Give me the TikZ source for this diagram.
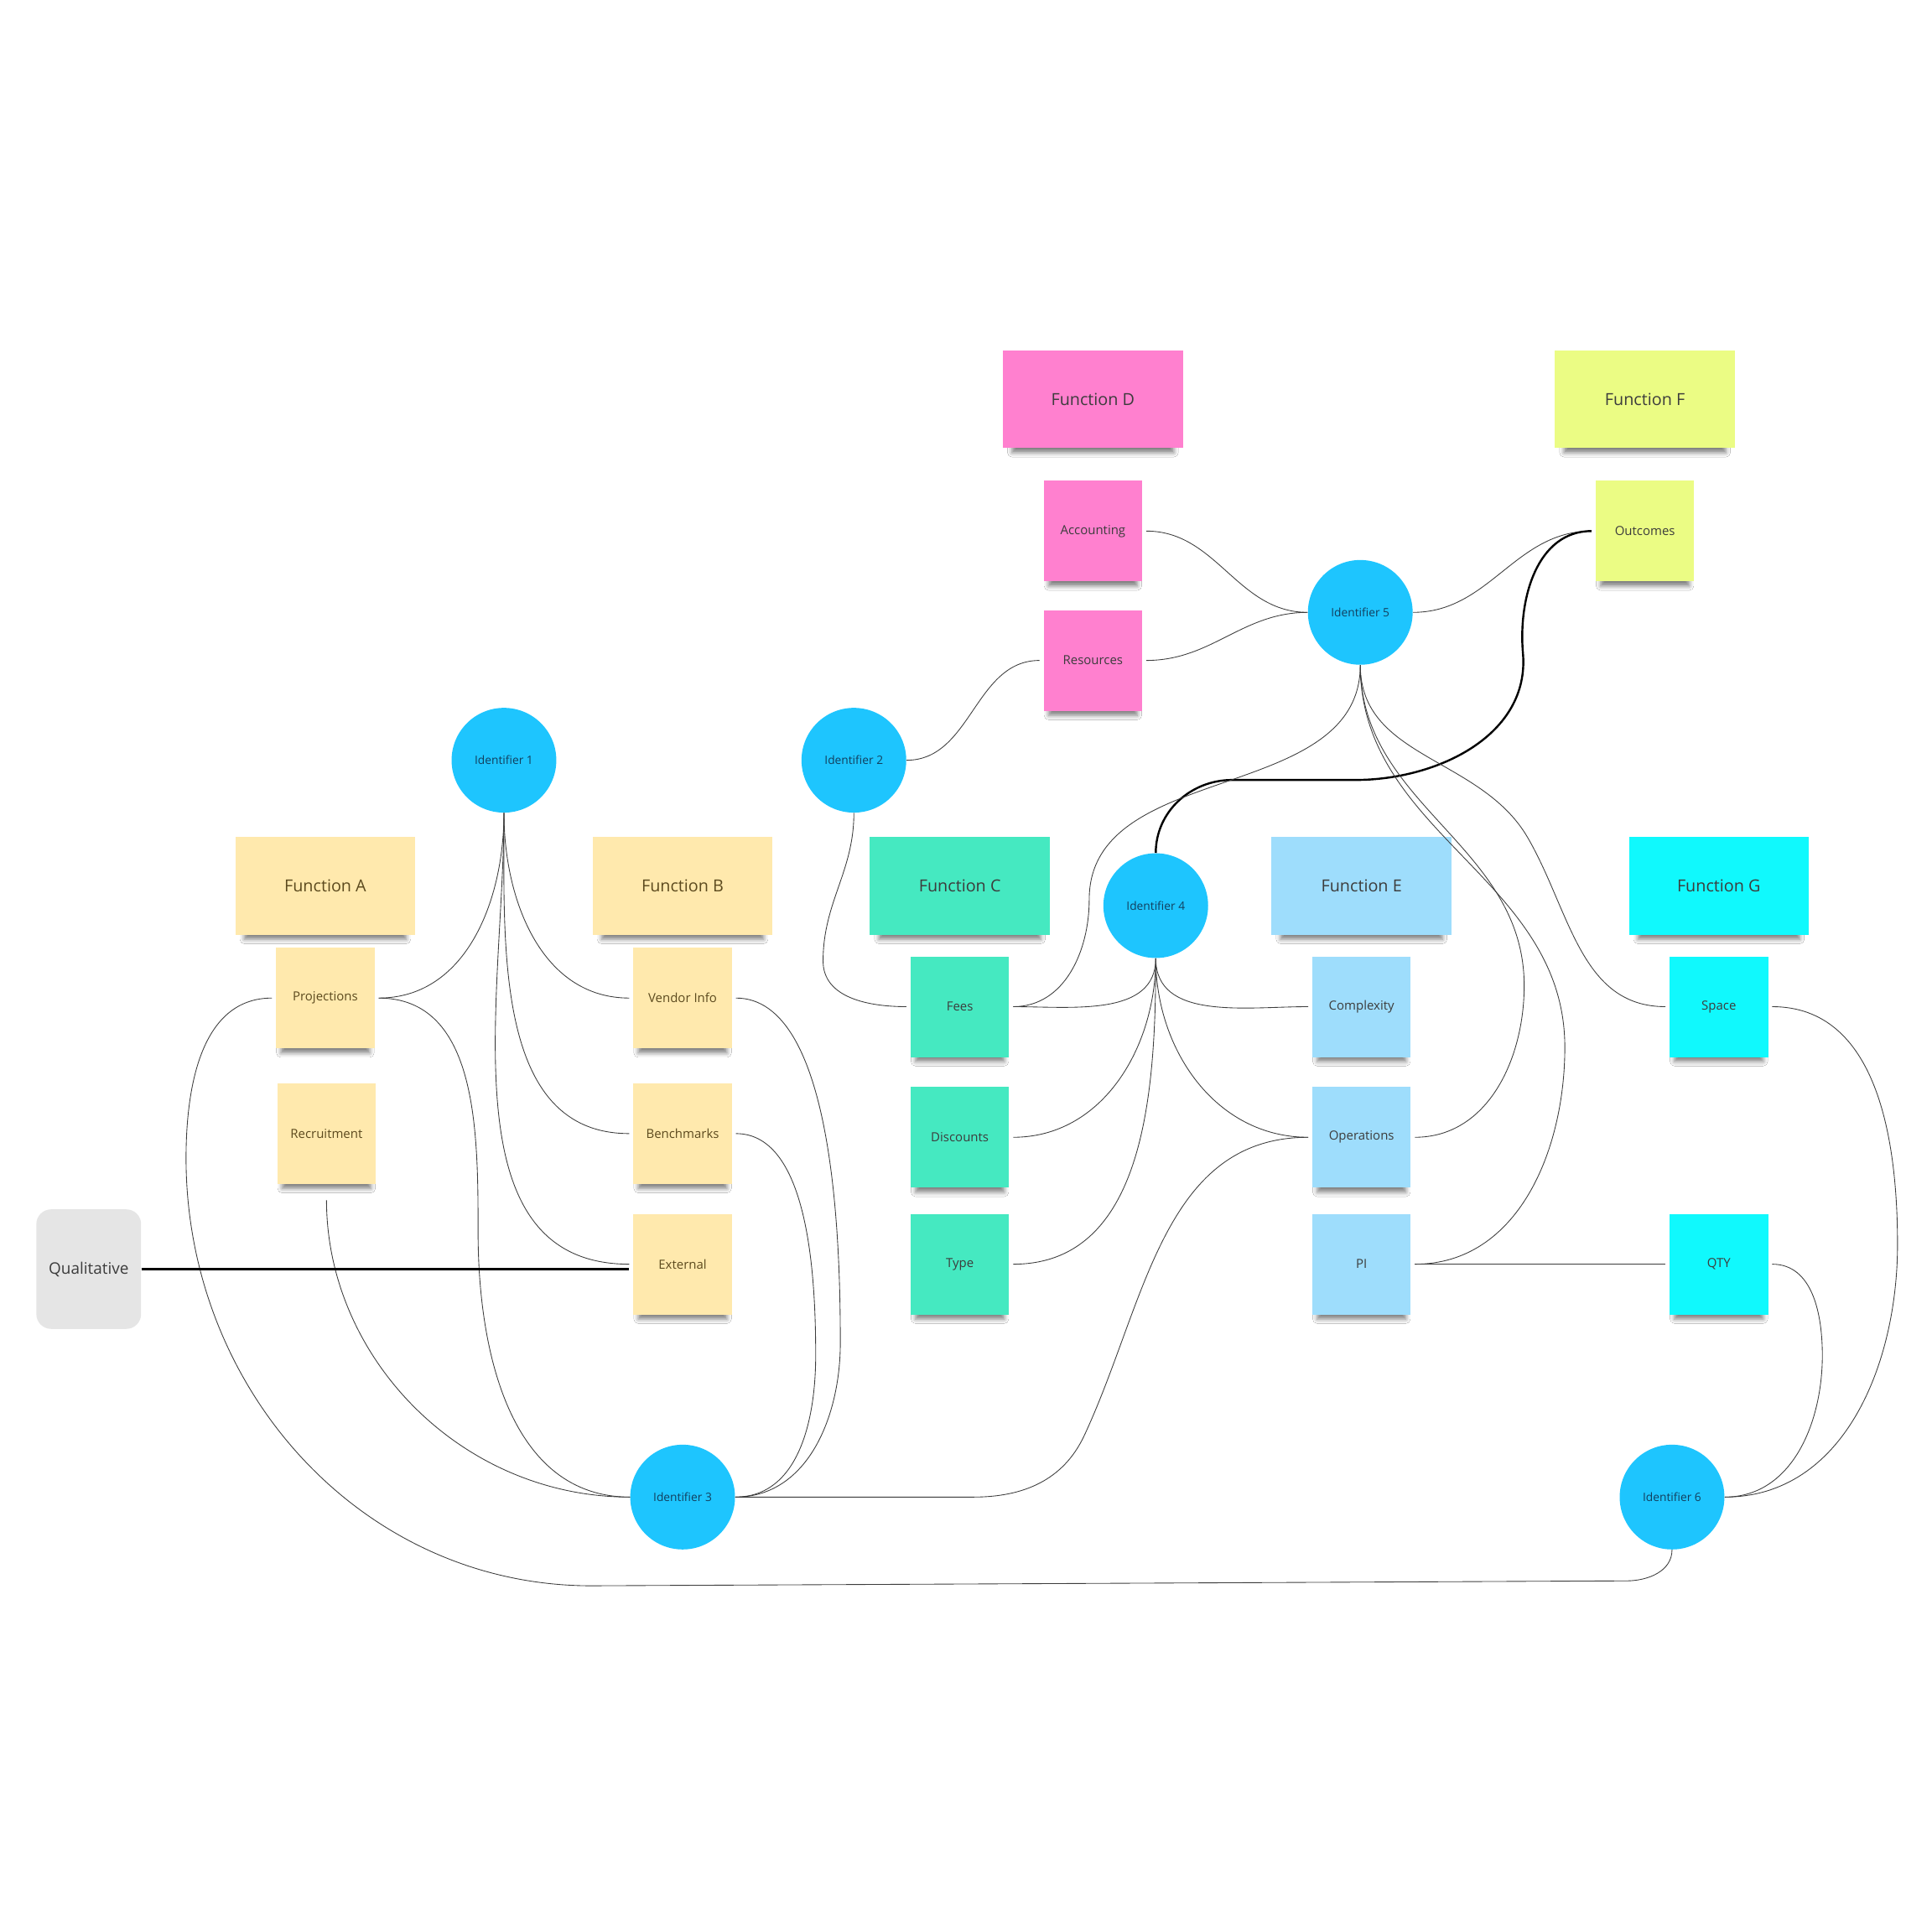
\documentclass[tikz,border=0pt]{standalone}
\usepackage{fontspec}
\setmainfont{Open Sans}
\usetikzlibrary{shadows.blur}
\definecolor{sandy}{HTML}{FFE9AD}
\definecolor{rosy}{HTML}{FF80CF}
\definecolor{limey}{HTML}{EBFC84}
\definecolor{minty}{HTML}{45E9C1}
\definecolor{skyey}{HTML}{9EDDFC}
\definecolor{aqua}{HTML}{10F9FD}
\definecolor{idblue}{HTML}{1EC5FE}
\definecolor{greyish}{HTML}{E5E5E5}
\definecolor{brownish}{HTML}{5C4A1E}
\definecolor{inky}{HTML}{3C3C3C}
\definecolor{navyish}{HTML}{123F5E}
\begin{document}
\begin{tikzpicture}[x=0.3mm,y=0.3mm,
  paper/.style={inner sep=0pt,outer sep=1mm,text=inky,blur shadow={shadow xshift=0mm,shadow yshift=-2.6mm,shadow scale=0.9,shadow opacity=50,shadow blur radius=1.2mm}},
  head/.style={paper,fill=#1,minimum width=43.8mm,minimum height=23.7mm,font=\fontsize{11.5}{13}\selectfont},
  note/.style={paper,fill=#1,minimum width=24mm,minimum height=24.5mm,font=\fontsize{8.7}{10}\selectfont},
  sand/.style={text=brownish},
  ident/.style={circle,fill=idblue,minimum size=25.5mm,inner sep=0pt,text=navyish,font=\fontsize{8}{9}\selectfont},
  link/.style={draw=inky,line width=0.5pt},
  bold/.style={draw=black,line width=1.4pt}]
\fill[white] (0,0) rectangle (1568,-1568);
\useasboundingbox (0,0) rectangle (1568,-1568);
\node[head=rosy] (fd) at (887,-324) {Function D}; \node[head=limey] (ff) at (1335,-324) {Function F};
\node[note=rosy] (acc) at (887,-431) {Accounting}; \node[note=limey] (outc) at (1335,-431) {Outcomes};
\node[note=rosy] (res) at (887,-536) {Resources};
\node[ident] (i5) at (1104,-497) {Identifier 5};
\node[ident] (i1) at (409,-617) {Identifier 1}; \node[ident] (i2) at (693,-617) {Identifier 2};
\node[head=sandy,sand] (fa) at (264,-719) {Function A}; \node[head=sandy,sand] (fb) at (554,-719) {Function B};
\node[head=minty] (fc) at (779,-719) {Function C}; \node[head=skyey] (fe) at (1105,-719) {Function E};
\node[head=aqua] (fg) at (1395,-719) {Function G};
\node[ident] (i4) at (938,-735) {Identifier 4};
\node[note=sandy,sand] (proj) at (264,-810) {Projections}; \node[note=sandy,sand] (vend) at (554,-810) {Vendor Info};
\node[note=minty] (fees) at (779,-817) {Fees}; \node[note=skyey] (comp) at (1105,-817) {Complexity};
\node[note=aqua] (space) at (1395,-817) {Space};
\node[note=sandy,sand] (recr) at (265,-920) {Recruitment}; \node[note=sandy,sand] (bench) at (554,-920) {Benchmarks};
\node[note=minty] (disc) at (779,-923) {Discounts}; \node[note=skyey] (oper) at (1105,-923) {Operations};
\node[note=sandy,sand] (ext) at (554,-1026) {External}; \node[note=minty] (type) at (779,-1026) {Type};
\node[note=skyey] (pi) at (1105,-1026) {PI}; \node[note=aqua] (qty) at (1395,-1026) {QTY};
\node[fill=greyish,rounded corners=3.6mm,minimum width=25.5mm,minimum height=29.1mm,text=inky,font=\fontsize{11}{13}\selectfont] (qual) at (72,-1030) {Qualitative};
\node[ident] (i3) at (554,-1215) {Identifier 3}; \node[ident] (i6) at (1357,-1215) {Identifier 6};
\draw[link] (i1.south) to[out=-90,in=0] (proj.east);
\draw[link] (i1.south) to[out=-90,in=180] (vend.west);
\draw[link] (i1.south) to[out=-90,in=180] (bench.west);
\draw[link] (i1.south) to[out=-90,in=180] (ext.west);
\draw[link] (proj.east) to[out=0,in=90] (388,-1000) to[out=-90,in=180] (i3.west);
\draw[link,shorten <=3mm] (recr.south) to[out=-90,in=180] (i3.west);
\draw[link] (proj.west) to[out=180,in=90] (151,-940) to[out=-90,in=180] (480,-1287) -- (1320,-1283) to[out=0,in=-90] (i6.south);
\draw[link] (vend.east) to[out=0,in=90,looseness=0.7] (682,-1090) to[out=-90,in=0] (i3.east);
\draw[link] (bench.east) to[out=0,in=90,looseness=0.8] (662,-1100) to[out=-90,in=0] (i3.east);
\draw[link] (i3.east) -- (790,-1215) to[out=0,in=-115] (880,-1165) to[out=65,in=180] (oper.west);
\draw[bold] (qual.east) -- (qual.east -| ext.west);
\draw[link] (i2.south) to[out=-90,in=90] (668,-780) to[out=-90,in=180] (fees.west);
\draw[link] (i2.east) to[out=0,in=180] (res.west);
\draw[link] (acc.east) to[out=0,in=180] (i5.west);
\draw[link] (res.east) to[out=0,in=180] (i5.west);
\draw[link] (i5.east) to[out=0,in=180] (outc.west);
\draw[bold] (outc.west) to[out=180,in=95] (1236,-530) to[out=-85,in=0] (1100,-633) -- (1000,-633) to[out=180,in=90] (i4.north);
\draw[link] (i5.south) to[out=-90,in=90] (884,-730) to[out=-90,in=0] (fees.east);
\draw[link] (i5.south) to[out=-90,in=90] (1237,-800) to[out=-90,in=0] (oper.east);
\draw[link] (i5.south) to[out=-90,in=90] (1270,-850) to[out=-90,in=0] (pi.east);
\draw[link] (i5.south) to[out=-90,in=120] (1240,-680) to[out=-60,in=180] (space.west);
\draw[link] (i4.south) to[out=-90,in=0] (fees.east);
\draw[link] (i4.south) to[out=-90,in=0] (disc.east);
\draw[link] (i4.south) to[out=-90,in=0] (type.east);
\draw[link] (i4.south) to[out=-90,in=180] (comp.west);
\draw[link] (i4.south) to[out=-90,in=180] (oper.west);
\draw[link] (pi.east) -- (qty.west);
\draw[link] (space.east) to[out=0,in=90] (1540,-1010) to[out=-90,in=0] (i6.east);
\draw[link] (qty.east) to[out=0,in=90] (1479,-1100) to[out=-90,in=0] (i6.east);
\end{tikzpicture}
\end{document}
